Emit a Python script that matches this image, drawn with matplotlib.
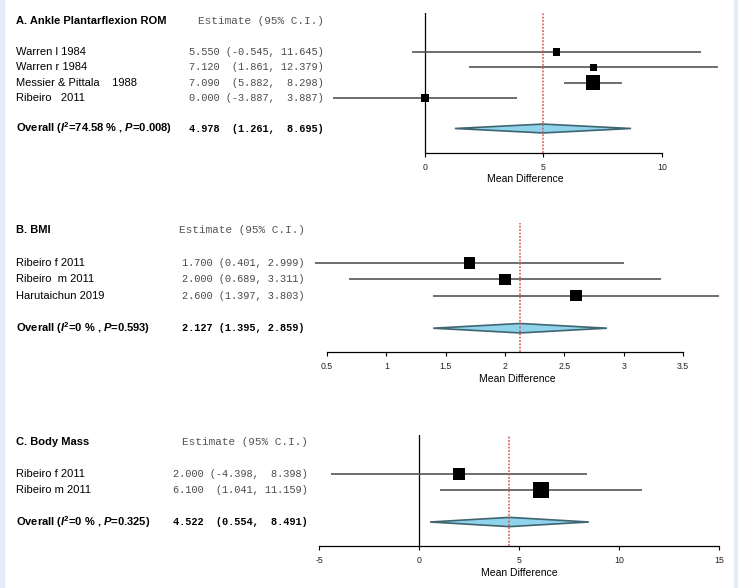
import numpy as np
import matplotlib
matplotlib.use('Agg')
import matplotlib.pyplot as plt
from matplotlib import transforms
from matplotlib.patches import Rectangle

plt.rcParams['font.family'] = ['Liberation Sans', 'DejaVu Sans']
plt.rcParams['mathtext.fontset'] = 'custom'
plt.rcParams['mathtext.rm'] = 'Liberation Sans:bold'
plt.rcParams['mathtext.bf'] = 'Liberation Sans:bold'
plt.rcParams['mathtext.it'] = 'Liberation Sans:italic:bold'
plt.rcParams['mathtext.bfit'] = 'Liberation Sans:italic:bold'

# data
title_a = 'A. Ankle Plantarflexion ROM'
studies_a = ['Warren l 1984', 'Warren r 1984', 'Messier & Pittala    1988', 'Ribeiro   2011']
est_a = [5.550, 7.120, 7.090, 0.000]
lo_a = [-0.545, 1.861, 5.882, -3.887]
hi_a = [11.645, 12.379, 8.298, 3.887]
weights_a = [15.3, 11.7, 53.7, 19.3]
overall_a = [4.978, 1.261, 8.695]
i2_a, p_a = '74.58', '0.008'
ticks_a = [0, 5, 10]

title_b = 'B. BMI'
studies_b = ['Ribeiro f 2011', 'Ribeiro  m 2011', 'Harutaichun 2019']
est_b = [1.700, 2.000, 2.600]
lo_b = [0.401, 0.689, 1.397]
hi_b = [2.999, 3.311, 3.803]
weights_b = [32.0, 32.0, 36.0]
overall_b = [2.127, 1.395, 2.859]
i2_b, p_b = '0', '0.593'
ticks_b = [0.5, 1, 1.5, 2, 2.5, 3, 3.5]

title_c = 'C. Body Mass'
studies_c = ['Ribeiro f 2011', 'Ribeiro m 2011']
est_c = [2.000, 6.100]
lo_c = [-4.398, 1.041]
hi_c = [8.398, 11.159]
weights_c = [38.0, 62.0]
overall_c = [4.522, 0.554, 8.491]
i2_c, p_c = '0', '0.325'
ticks_c = [-5, 0, 5, 10, 15]

W, H = 738, 588


def ci_strings(est, lo, hi):
    lo_s = [f'({v:.3f},' for v in lo]
    hi_s = [f'{v:.3f})' for v in hi]
    wl = max(len(s) for s in lo_s)
    wh = max(len(s) for s in hi_s)
    return [f'{e:.3f} {a.rjust(wl)} {b.rjust(wh)}' for e, a, b in zip(est, lo_s, hi_s)]


def forest(fig, title, studies, est, lo, hi, weights, overall, i2, p, ticks,
           tick_px, xlim, top_px, axis_px, row0_px, row_px, est_right_px):
    # axes placement (pixels -> figure fraction)
    scale = (tick_px[1] - tick_px[0]) / (ticks[-1] - ticks[0])
    left = tick_px[0] + (xlim[0] - ticks[0]) * scale
    right = tick_px[0] + (xlim[1] - ticks[0]) * scale
    ax = fig.add_axes([left / W, 1 - axis_px / H, (right - left) / W, (axis_px - top_px) / H])
    ax.set_xlim(xlim)
    ax.set_ylim((axis_px - row0_px) / row_px, (top_px - row0_px) / row_px)

    n = len(studies)
    ys = np.arange(n)
    y_all = n + 1

    ax.hlines(ys, lo, hi, color='#555555', lw=1.2, zorder=2)
    sizes = (1.95 * np.sqrt(weights) * 0.72) ** 2
    ax.scatter(est, ys, marker='s', s=sizes, color='black', zorder=3, linewidths=0)

    e, l, h = overall
    dh = 0.29
    ax.fill([l, e, h, e], [y_all, y_all - dh, y_all, y_all + dh],
            facecolor='#8fd3ec', edgecolor='#3f6570', lw=1.2, zorder=3)

    ax.axvline(0, color='black', lw=0.9, zorder=1)
    ax.axvline(e, color='#d9534f', lw=1.1, ls=(0, (1.2, 1.0)), zorder=4)

    for s in ['top', 'right', 'left']:
        ax.spines[s].set_visible(False)
    ax.spines['bottom'].set_bounds(ticks[0], ticks[-1])
    ax.spines['bottom'].set_linewidth(0.9)
    ax.set_yticks([])
    ax.set_xticks(ticks)
    ax.set_xticklabels([f'{t:g}' for t in ticks], fontsize=6.3, color='#222222')
    ax.tick_params(axis='x', length=3, width=0.8, pad=4)
    ax.set_xlabel('Mean Difference', fontsize=7.5, labelpad=2)
    ax.patch.set_alpha(0)

    # left text columns
    tr = transforms.blended_transform_factory(fig.transFigure, ax.transData)
    xl = 16 / W
    xr = est_right_px / W
    ax.text(xl, -2, title, transform=tr, fontsize=8, fontweight='bold', va='center')
    ax.text(xr, -2, 'Estimate (95% C.I.)', transform=tr, fontsize=8, ha='right',
            va='center', family='Liberation Mono', color='#555555')
    labels = ci_strings(list(est) + [e], list(lo) + [l], list(hi) + [h])
    for y, name, lab in zip(ys, studies, labels):
        ax.text(xl, y, name, transform=tr, fontsize=8, va='center')
        ax.text(xr, y, lab, transform=tr, fontsize=7.4, ha='right', va='center',
                family='Liberation Mono', color='#4a4a4a')
    ax.text(xl, y_all, rf'Overall ($\mathbfit{{I}}^{{\mathbf{{2}}}}$={i2} % , $\mathbfit{{P}}$={p})',
            transform=tr, fontsize=8, fontweight='bold', va='center')
    ax.text(xr, y_all, labels[-1], transform=tr, fontsize=7.4, ha='right', va='center',
            family='Liberation Mono', fontweight='bold', color='black')
    return ax


fig = plt.figure(figsize=(W / 100, H / 100), dpi=100)
fig.patch.set_facecolor('white')

forest(fig, title_a, studies_a, est_a, lo_a, hi_a, weights_a, overall_a, i2_a, p_a, ticks_a,
       (425, 662), (-4.5, 13.0), 13, 153, 52, 15.3, 324)
forest(fig, title_b, studies_b, est_b, lo_b, hi_b, weights_b, overall_b, i2_b, p_b, ticks_b,
       (327, 683), (0.3, 3.9), 223, 352, 263, 16.3, 305)
forest(fig, title_c, studies_c, est_c, lo_c, hi_c, weights_c, overall_c, i2_c, p_c, ticks_c,
       (319, 719), (-5.5, 15.5), 435, 546, 474, 16.0, 308)

# light blue frame at the sides
fig.patches.append(Rectangle((0, 0), 4 / W, 1, transform=fig.transFigure,
                             color='#e2edf7', zorder=0))
fig.patches.append(Rectangle((734 / W, 0), 4 / W, 1, transform=fig.transFigure,
                             color='#e2edf7', zorder=0))

fig.savefig('out.png', dpi=100)
